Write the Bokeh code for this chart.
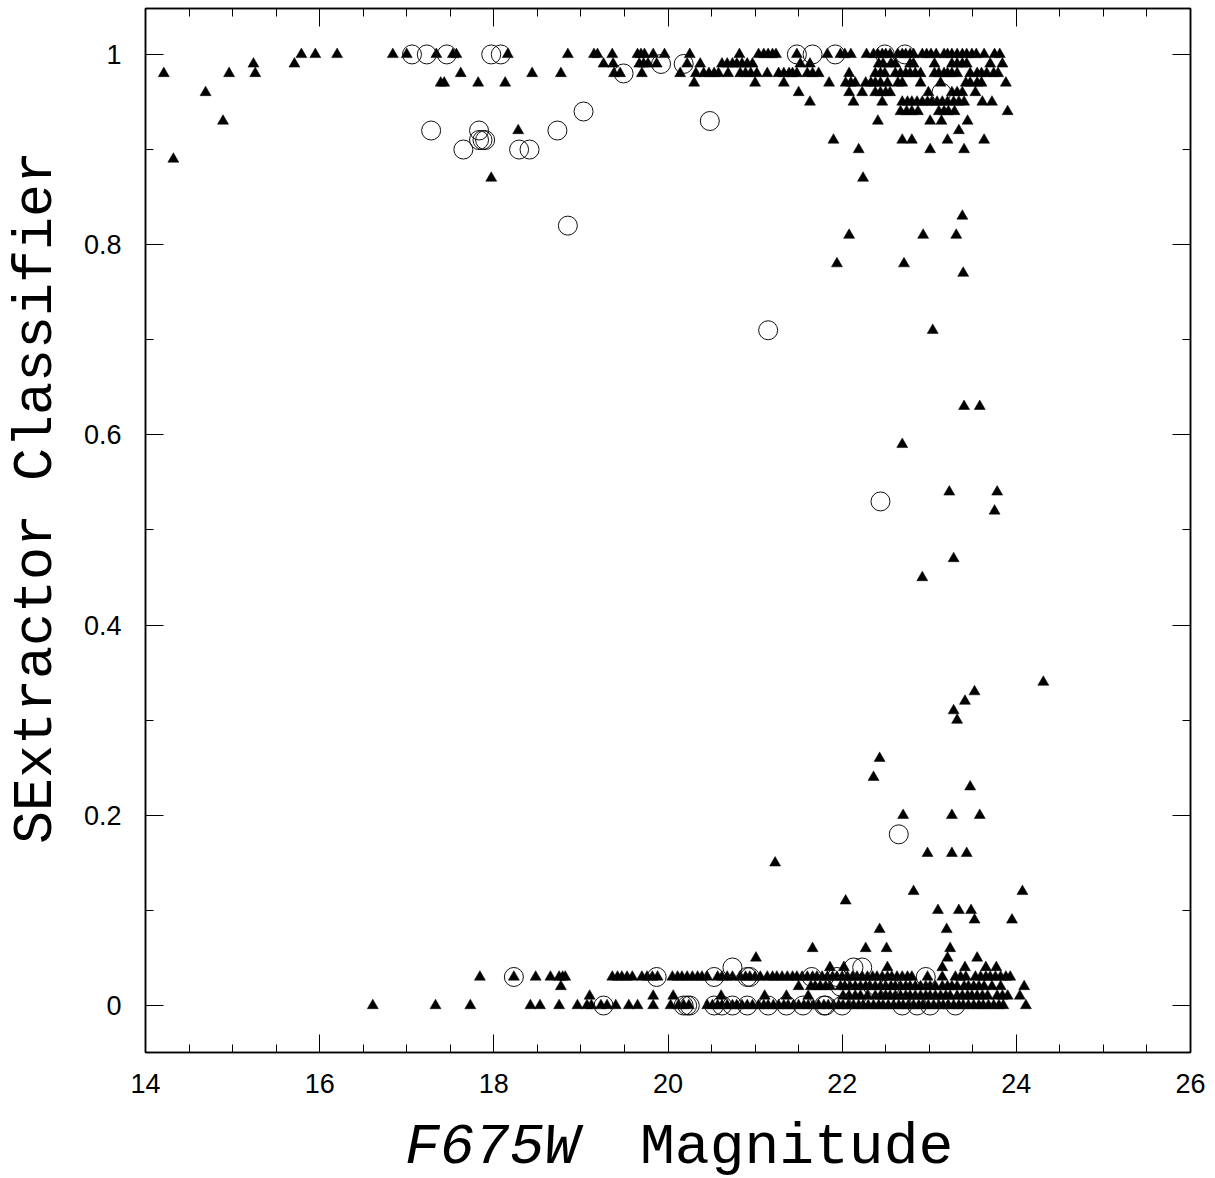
from bokeh.plotting import figure
from bokeh.layouts import column
from bokeh.models import (Range1d, LinearAxis, SingleIntervalTicker, Div,
                          ColumnDataSource, CustomJSTickFormatter)
from bokeh.embed import file_html
from bokeh.resources import INLINE

# ---------------- data: triangles (all objects) ----------------
tri_100 = [15.79, 15.95, 16.20, 16.84, 17.00, 17.34, 17.53, 17.57, 18.16,
           18.85, 19.15, 19.19, 19.36, 19.65, 19.69, 19.73, 19.83, 19.96, 20.25, 20.82,
           21.04, 21.10, 21.15, 21.20, 21.24, 21.48, 21.83, 21.98, 22.03, 22.10,
           22.28, 22.36, 22.41, 22.46, 22.50, 22.55, 22.64, 22.69, 22.73, 22.78, 22.82,
           22.92, 22.97, 23.02, 23.08, 23.17, 23.21, 23.26, 23.32, 23.38, 23.43, 23.49,
           23.54, 23.63, 23.75, 23.81]
tri_099 = [15.24, 15.71, 19.26, 19.37, 19.67, 19.72, 19.77, 19.87, 20.22, 20.37, 20.62,
           20.68, 20.74, 20.79, 20.85, 20.91, 20.97, 21.52, 21.63, 22.42, 22.47, 22.56,
           22.61, 22.78, 22.82, 23.06, 23.26, 23.32, 23.38, 23.43, 23.70, 23.84]
tri_098 = [14.21, 14.96, 15.26, 17.62, 18.44, 18.77, 19.38, 19.45, 19.70, 20.14, 20.32,
           20.41, 20.47, 20.53, 20.58, 20.69, 20.83, 20.89, 20.95, 21.02, 21.14, 21.27,
           21.33, 21.39, 21.43, 21.48, 21.60, 21.66, 21.73, 22.08, 22.38, 22.44, 22.49,
           22.61, 22.67, 22.73, 22.78, 22.84, 22.90, 23.06, 23.11, 23.17, 23.21, 23.26,
           23.32, 23.47, 23.55, 23.60, 23.66, 23.74, 23.79]
tri_097 = [17.39, 17.43, 17.82, 18.13, 20.30, 21.00, 21.33, 21.85, 22.04, 22.10, 22.15,
           22.27, 22.33, 22.38, 22.44, 22.52, 22.64, 22.69, 22.90, 23.13, 23.42, 23.47,
           23.55, 23.60, 23.88]
tri_096 = [14.69, 21.50, 22.08, 22.23, 22.38, 22.44, 22.50, 22.55, 22.99, 23.26, 23.32,
           23.38, 23.53]
tri_095 = [21.63, 22.13, 22.46, 22.69, 22.75, 22.80, 22.86, 22.92, 22.98, 23.03, 23.09,
           23.15, 23.21, 23.28, 23.34, 23.40, 23.61, 23.72]
tri_094 = [22.67, 22.74, 22.80, 22.87, 23.11, 23.17, 23.22, 23.29, 23.90]
tri_093 = [14.89, 22.41, 23.01, 23.14, 23.44]
tri_092 = [18.28, 23.34]
tri_091 = [21.90, 22.69, 22.80, 23.21, 23.63]
tri_090 = [22.19, 23.01, 23.40]

tri_003 = [17.84, 18.23, 18.48, 18.65, 18.75, 18.79, 18.82, 19.36, 19.42, 19.47, 19.53,
           19.59, 19.70, 19.76, 19.82, 19.88, 20.05, 20.11, 20.16, 20.22, 20.28, 20.34,
           20.39, 20.45, 20.57, 20.62, 20.68, 20.74, 20.83, 20.89, 20.94, 21.00, 21.06,
           21.14, 21.20, 21.25, 21.31, 21.37, 21.43, 21.48, 21.54, 21.60, 21.66, 21.71,
           21.77, 21.83, 21.89, 21.94, 22.00, 22.06, 22.12, 22.17, 22.23, 22.29, 22.35,
           22.40, 22.46, 22.52, 22.57, 22.63, 22.69, 22.75, 22.80, 22.98, 23.15, 23.30,
           23.36, 23.42, 23.53, 23.59, 23.65, 23.70, 23.76, 23.82, 23.88, 23.93]
tri_002 = [18.77, 21.50, 21.64, 21.69, 21.75, 21.81, 21.86, 21.98, 22.03, 22.09, 22.15,
           22.21, 22.27, 22.32, 22.38, 22.44, 22.50, 22.56, 22.61, 22.67, 22.73, 22.78,
           22.84, 22.90, 22.96, 23.01, 23.07, 23.15, 23.21, 23.26, 23.32, 23.40, 23.45,
           23.51, 23.57, 23.63, 23.72, 23.82, 24.09]
tri_001 = [19.10, 19.83, 20.06, 20.61, 21.11, 21.36, 21.61, 22.01, 22.08, 22.15, 22.21,
           22.29, 22.38, 22.44, 22.50, 22.55, 22.61, 22.67, 22.73, 22.78, 22.84, 22.90,
           22.96, 23.01, 23.07, 23.13, 23.19, 23.24, 23.32, 23.38, 23.44, 23.49, 23.55,
           23.61, 23.67, 23.78, 23.84, 23.90, 24.04]
tri_000 = [16.61, 17.33, 17.73, 18.42, 18.53, 18.75, 18.96, 19.07, 19.12, 19.23, 19.30,
           19.40, 19.55, 19.65, 19.83, 20.03, 20.12, 20.18, 20.24, 20.45, 20.51, 20.57,
           20.62, 20.68, 20.74, 20.79, 20.85, 20.91, 20.97, 21.04, 21.10, 21.15, 21.21,
           21.27, 21.33, 21.38, 21.44, 21.50, 21.56, 21.61, 21.67, 21.73, 21.79, 21.84,
           21.90, 21.96, 22.01, 22.07, 22.13, 22.19, 22.24, 22.30, 22.36, 22.42, 22.47,
           22.53, 22.59, 22.65, 22.70, 22.76, 22.82, 22.88, 22.93, 22.99, 23.05, 23.11,
           23.16, 23.22, 23.28, 23.34, 23.39, 23.45, 23.51, 23.57, 23.62, 23.68, 23.74,
           23.80, 23.85, 24.11]

# scattered (non-banded) triangles
tri_mid_mag = [14.32, 17.97, 22.24, 23.38, 22.08, 22.93, 23.31, 21.94, 22.71, 23.39,
               23.04, 23.40, 23.58, 22.69, 23.23, 23.78, 23.75, 23.28, 22.92, 24.31,
               23.52, 23.41, 23.28, 23.32, 22.43, 22.36, 23.47, 22.70, 23.26, 23.58,
               22.98, 23.26, 23.43, 21.23, 22.82, 24.07, 22.04, 23.10, 23.34, 23.48,
               23.52, 23.95, 22.43, 23.20, 21.66, 22.27, 22.51, 23.24, 21.01, 23.21,
               23.55, 21.86, 22.02, 22.52, 23.15, 23.41, 23.65, 23.77]
tri_mid_cls = [0.89, 0.87, 0.87, 0.83, 0.81, 0.81, 0.81, 0.78, 0.78, 0.77,
               0.71, 0.63, 0.63, 0.59, 0.54, 0.54, 0.52, 0.47, 0.45, 0.34,
               0.33, 0.32, 0.31, 0.30, 0.26, 0.24, 0.23, 0.20, 0.20, 0.20,
               0.16, 0.16, 0.16, 0.15, 0.12, 0.12, 0.11, 0.10, 0.10, 0.10,
               0.09, 0.09, 0.08, 0.08, 0.06, 0.06, 0.06, 0.06, 0.05, 0.05,
               0.05, 0.04, 0.04, 0.04, 0.04, 0.04, 0.04, 0.04]

# ---------------- data: octagons (subset) ----------------
oct_mag = [17.06, 17.23, 17.46, 17.97, 18.08, 21.48, 21.66, 21.92, 22.49, 22.72,
           19.92, 20.18, 19.49, 23.14, 19.03, 20.48, 17.28, 17.83, 18.73,
           17.83, 17.87, 17.90, 17.65, 18.29, 18.41, 18.85, 21.15, 22.44, 22.65,
           20.74, 22.13, 22.23,
           18.23, 19.87, 20.53, 20.91, 20.94, 21.65, 21.94, 22.96,
           21.98, 22.40, 22.55, 22.17,
           19.26, 20.18, 20.22, 20.25, 20.53, 20.62, 20.74, 20.91, 21.15, 21.36,
           21.55, 21.79, 21.81, 22.00, 22.69, 22.86, 23.01, 23.30]
oct_cls = [1.00, 1.00, 1.00, 1.00, 1.00, 1.00, 1.00, 1.00, 1.00, 1.00,
           0.99, 0.99, 0.98, 0.96, 0.94, 0.93, 0.92, 0.92, 0.92,
           0.91, 0.91, 0.91, 0.90, 0.90, 0.90, 0.82, 0.71, 0.53, 0.18,
           0.04, 0.04, 0.04,
           0.03, 0.03, 0.03, 0.03, 0.03, 0.03, 0.03, 0.03,
           0.02, 0.02, 0.02, 0.01,
           0.00, 0.00, 0.00, 0.00, 0.00, 0.00, 0.00, 0.00, 0.00, 0.00,
           0.00, 0.00, 0.00, 0.00, 0.00, 0.00, 0.00, 0.00]

x_label_italic = "F675W"
x_label_plain = "Magnitude"
y_label = "SExtractor Classifier"

tri_rows = [(1.00, tri_100), (0.99, tri_099), (0.98, tri_098), (0.97, tri_097),
            (0.96, tri_096), (0.95, tri_095), (0.94, tri_094), (0.93, tri_093),
            (0.92, tri_092), (0.91, tri_091), (0.90, tri_090),
            (0.03, tri_003), (0.02, tri_002), (0.01, tri_001), (0.00, tri_000)]

tx, ty = [], []
for level, mags in tri_rows:
    tx.extend(mags)
    ty.extend([level] * len(mags))
tx.extend(tri_mid_mag)
ty.extend(tri_mid_cls)

tri_src = ColumnDataSource(dict(mag=tx, cls=ty))
oct_src = ColumnDataSource(dict(mag=oct_mag, cls=oct_cls))

# ---------------- main figure ----------------
MAIN_H = 1110
p = figure(width=1215, height=MAIN_H, output_backend="svg", toolbar_location=None,
           x_range=Range1d(14, 26), y_range=Range1d(-0.0494, 1.0483),
           min_border_left=145, min_border_right=25, min_border_top=8,
           min_border_bottom=MAIN_H - 1052, x_axis_location=None, y_axis_location=None)
p.background_fill_color = "white"
p.border_fill_color = "white"
p.outline_line_color = "black"
p.outline_line_width = 1.5
p.xgrid.visible = False
p.ygrid.visible = False

blank = CustomJSTickFormatter(code="return ''")

def style_axis(ax, show_labels):
    ax.axis_line_color = "black"
    ax.axis_line_width = 1.5
    ax.major_tick_in = 18
    ax.major_tick_out = 0
    ax.minor_tick_in = 8
    ax.minor_tick_out = 0
    ax.major_tick_line_color = "black"
    ax.minor_tick_line_color = "black"
    ax.major_tick_line_width = 1
    ax.minor_tick_line_width = 1
    if show_labels:
        ax.major_label_text_font = "Liberation Sans"
        ax.major_label_text_font_size = "27px"
        ax.major_label_text_color = "black"
    else:
        ax.formatter = blank
        ax.major_label_text_font_size = "1px"
        ax.major_label_standoff = 0

xb = LinearAxis(ticker=SingleIntervalTicker(interval=2, num_minor_ticks=4))
style_axis(xb, True)
xb.major_label_standoff = 21
p.add_layout(xb, "below")

xt = LinearAxis(ticker=SingleIntervalTicker(interval=2, num_minor_ticks=4))
style_axis(xt, False)
p.add_layout(xt, "above")

yl = LinearAxis(ticker=SingleIntervalTicker(interval=0.2, num_minor_ticks=2),
                axis_label="\u00a0\u00a0" + y_label)
style_axis(yl, True)
yl.major_label_standoff = 24
yl.major_label_overrides = {0: "0", 1: "1"}
yl.axis_label_text_font = "Liberation Mono"
yl.axis_label_text_font_size = "55px"
yl.axis_label_text_font_style = "normal"
yl.axis_label_text_color = "black"
yl.axis_label_standoff = 13
p.add_layout(yl, "left")

yr = LinearAxis(ticker=SingleIntervalTicker(interval=0.2, num_minor_ticks=2))
style_axis(yr, False)
p.add_layout(yr, "right")

p.scatter("mag", "cls", source=tri_src, marker="triangle", size=11,
          fill_color="black", line_color="black", line_width=0.5)
p.scatter("mag", "cls", source=oct_src, marker="circle", size=19,
          fill_color=None, line_color="#111111", line_width=1)

# ---------------- x-axis title strip ----------------
STRIP_H = 1178 - MAIN_H
xtitle = Div(
    text=('<span style="font-style:italic">' + x_label_italic + '</span>'
          '<span style="margin-left:61px">' + x_label_plain + '</span>'),
    width=1215, height=STRIP_H, margin=0,
    styles={"font-family": "Liberation Mono", "font-size": "58px",
            "line-height": "58px", "padding-left": "405px", "padding-top": "9px",
            "color": "black", "white-space": "nowrap", "box-sizing": "border-box",
            "background-color": "white"})

layout = column(p, xtitle, spacing=0)
open("out.html", "w").write(file_html(layout, INLINE))
